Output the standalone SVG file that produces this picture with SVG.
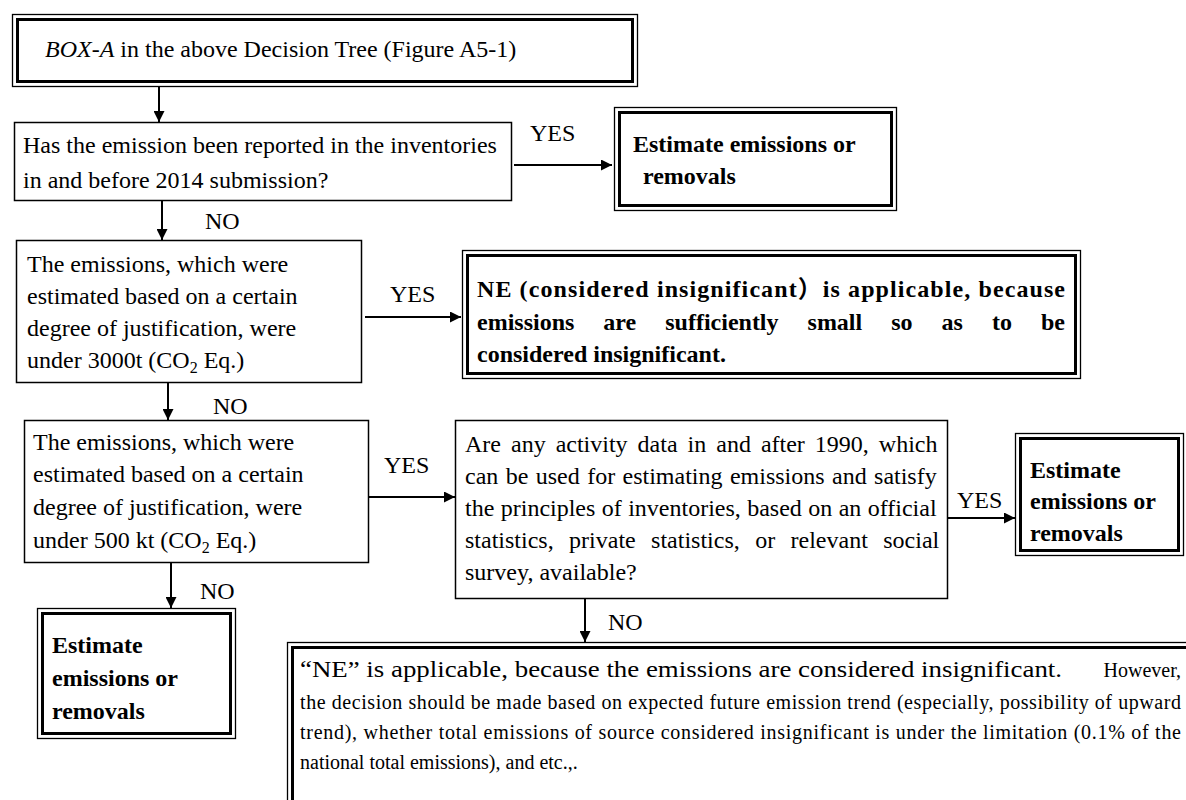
<svg xmlns="http://www.w3.org/2000/svg" width="1186" height="800" viewBox="0 0 1186 800">
<style>
.t{font-family:"Liberation Serif","Times New Roman","Noto Sans CJK JP",serif;font-size:24px;fill:#000}
.b{font-weight:bold}
.sm{font-size:20px}
.box{fill:#fff;stroke:#000;stroke-width:1.5}
.dbo{fill:#fff;stroke:#000;stroke-width:1.3}
.dbi{fill:none;stroke:#000;stroke-width:3}
.conn{stroke:#000;stroke-width:2;fill:none;marker-end:url(#ah)}
</style>
<defs>
<marker id="ah" viewBox="0 0 10 10" refX="10" refY="5" markerWidth="13" markerHeight="11" markerUnits="userSpaceOnUse" orient="auto">
<path d="M0,0 L10,5 L0,10 z" fill="#000"/>
</marker>
</defs>
<rect width="1186" height="800" fill="#fff"/>

<g id="connectors">
<line class="conn" x1="159" y1="87" x2="159" y2="122"/>
<line class="conn" x1="514" y1="165" x2="612" y2="165"/>
<line class="conn" x1="162" y1="201" x2="162" y2="240"/>
<line class="conn" x1="365" y1="317" x2="461" y2="317"/>
<line class="conn" x1="168" y1="383" x2="168" y2="420"/>
<line class="conn" x1="368" y1="497" x2="455" y2="497"/>
<line class="conn" x1="947" y1="518" x2="1015" y2="518"/>
<line class="conn" x1="171" y1="563" x2="171" y2="608"/>
<line class="conn" x1="585" y1="599" x2="585" y2="642"/>
<text class="t" x="530" y="141">YES</text>
<text class="t" x="205" y="229">NO</text>
<text class="t" x="390" y="302">YES</text>
<text class="t" x="213" y="414">NO</text>
<text class="t" x="384" y="473">YES</text>
<text class="t" x="957" y="508">YES</text>
<text class="t" x="200" y="599">NO</text>
<text class="t" x="608" y="630">NO</text>
</g>

<g id="box-a">
<rect class="dbo" x="12.5" y="14.5" width="625" height="72"/>
<rect class="dbi" x="17.5" y="19.5" width="615" height="62"/>
<text class="t" x="45" y="57"><tspan font-style="italic">BOX-A</tspan> in the above Decision Tree (Figure A5-1)</text>
</g>

<g id="q1">
<rect class="box" x="14.5" y="122.5" width="497" height="78"/>
<text class="t" x="23" y="153">Has the emission been reported in the inventories</text>
<text class="t" x="23" y="188">in and before 2014 submission?</text>
</g>

<g id="est1">
<rect class="dbo" x="614.5" y="107.5" width="282" height="103"/>
<rect class="dbi" x="619.5" y="112.5" width="272" height="93"/>
<text class="t b" x="633" y="152">Estimate emissions or</text>
<text class="t b" x="643" y="184">removals</text>
</g>

<g id="q2">
<rect class="box" x="16.5" y="240.5" width="345" height="142"/>
<text class="t" x="27" y="272">The emissions, which were</text>
<text class="t" x="27" y="304">estimated based on a certain</text>
<text class="t" x="27" y="336">degree of justification, were</text>
<text class="t" x="27" y="368">under 3000t (CO<tspan font-size="16" dy="5">2</tspan><tspan dy="-5"> Eq.)</tspan></text>
</g>

<g id="ne1">
<rect class="dbo" x="462.5" y="250.5" width="618" height="128"/>
<rect class="dbi" x="467.5" y="255.5" width="608" height="118"/>
<text class="t b" x="477" y="297" textLength="588" lengthAdjust="spacing">NE (considered insignificant）is applicable, because</text>
<text class="t b" x="477" y="330" word-spacing="23">emissions are sufficiently small so as to be</text>
<text class="t b" x="477" y="362">considered insignificant.</text>
</g>

<g id="q3">
<rect class="box" x="24.5" y="420.5" width="344" height="142"/>
<text class="t" x="33" y="450">The emissions, which were</text>
<text class="t" x="33" y="482">estimated based on a certain</text>
<text class="t" x="33" y="515">degree of justification, were</text>
<text class="t" x="33" y="548">under 500 kt (CO<tspan font-size="16" dy="5">2</tspan><tspan dy="-5"> Eq.)</tspan></text>
</g>

<g id="q4">
<rect class="box" x="455.5" y="420.5" width="492" height="178"/>
<text class="t" x="465" y="452" word-spacing="4">Are any activity data in and after 1990, which</text>
<text class="t" x="465" y="484" word-spacing="1.4">can be used for estimating emissions and satisfy</text>
<text class="t" x="465" y="516" word-spacing="0.4">the principles of inventories, based on an official</text>
<text class="t" x="465" y="548" word-spacing="9.4">statistics, private statistics, or relevant social</text>
<text class="t" x="465" y="580">survey, available?</text>
</g>

<g id="est3">
<rect class="dbo" x="1015.5" y="433.5" width="168" height="122"/>
<rect class="dbi" x="1020.5" y="438.5" width="158" height="112"/>
<text class="t b" x="1030" y="478">Estimate</text>
<text class="t b" x="1030" y="509">emissions or</text>
<text class="t b" x="1030" y="541">removals</text>
</g>

<g id="est2">
<rect class="dbo" x="37.5" y="608.5" width="198" height="130"/>
<rect class="dbi" x="42.5" y="613.5" width="188" height="120"/>
<text class="t b" x="52" y="653">Estimate</text>
<text class="t b" x="52" y="686">emissions or</text>
<text class="t b" x="52" y="719">removals</text>
</g>

<g id="ne2">
<rect class="dbo" x="287.5" y="642.5" width="920" height="180"/>
<rect class="dbi" x="292.5" y="647.5" width="910" height="170"/>
<text class="t" x="300" y="677" font-size="25" textLength="762" lengthAdjust="spacingAndGlyphs">“NE” is applicable, because the emissions are considered insignificant.</text>
<text class="t sm" x="1181" y="677" text-anchor="end">However,</text>
<text class="t sm" x="300" y="709" textLength="881" lengthAdjust="spacing">the decision should be made based on expected future emission trend (especially, possibility of upward</text>
<text class="t sm" x="300" y="739" textLength="881" lengthAdjust="spacing">trend), whether total emissions of source considered insignificant is under the limitation (0.1% of the</text>
<text class="t sm" x="300" y="769">national total emissions), and etc.,.</text>
</g>
</svg>
